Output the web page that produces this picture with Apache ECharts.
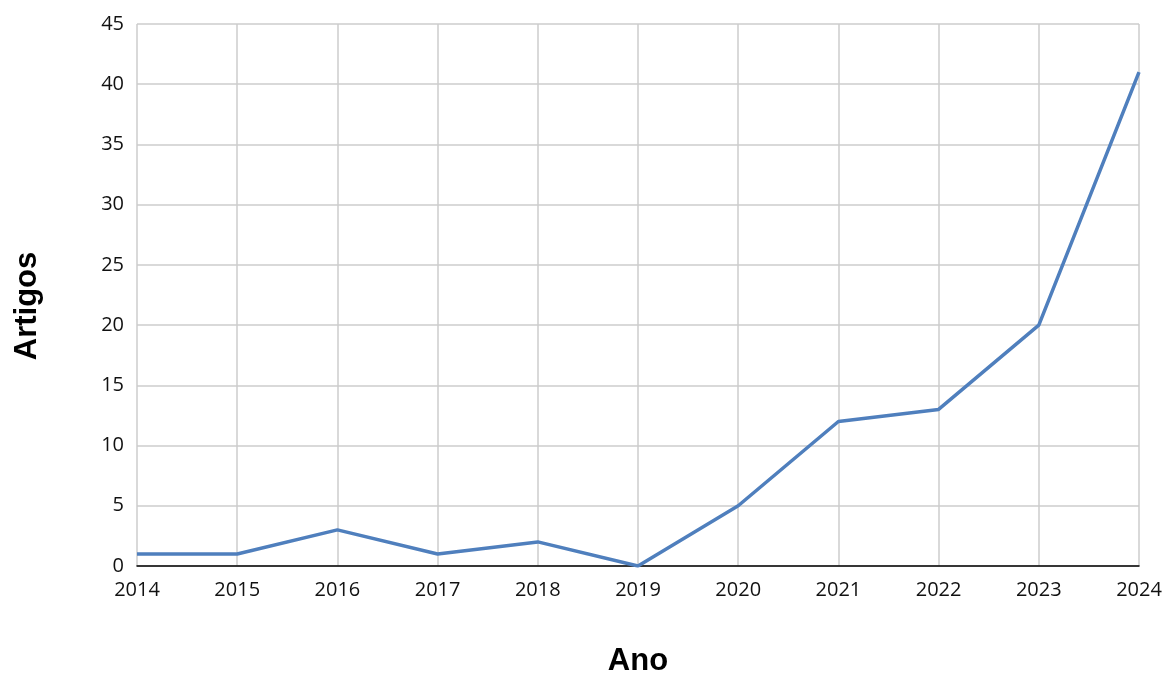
<!DOCTYPE html>
<html>
<head>
<meta charset="utf-8">
<script src="https://cdn.jsdelivr.net/npm/echarts@6/dist/echarts.min.js"></script>
<style>
  html, body { margin: 0; padding: 0; background: #fff; }
  #chart { width: 1165px; height: 677px; }
</style>
</head>
<body>
<div id="chart"></div>
<script>
const years = ['2014', '2015', '2016', '2017', '2018', '2019', '2020', '2021', '2022', '2023', '2024'];
const artigos = [1, 1, 3, 1, 2, 0, 5, 12, 13, 20, 41];

const chart = echarts.init(document.getElementById('chart'));

const option = {
  animation: false,
  grid: { left: 137, right: 26, top: 24, bottom: 111, outerBoundsMode: 'none', containLabel: false },
  xAxis: {
    type: 'category',
    data: years,
    boundaryGap: false,
    name: 'Ano',
    nameLocation: 'middle',
    nameGap: 80,
    nameTextStyle: { fontFamily: 'Liberation Sans', fontWeight: 'bold', fontSize: 31, color: '#000' },
    axisLine: { lineStyle: { color: '#000', width: 1.5 } },
    axisTick: { show: false },
    axisLabel: { fontFamily: 'Open Sans', fontSize: 20, color: '#111', margin: 14, interval: 0 },
    splitLine: { show: true, lineStyle: { color: '#cccccc', width: 1.5 } }
  },
  yAxis: {
    type: 'value',
    min: 0,
    max: 45,
    interval: 5,
    name: 'Artigos',
    nameLocation: 'middle',
    nameGap: 94,
    nameTextStyle: { fontFamily: 'Liberation Sans', fontWeight: 'bold', fontSize: 31, color: '#000', padding: [0, 22, 0, 0] },
    axisLine: { show: false },
    axisTick: { show: false },
    axisLabel: { fontFamily: 'Open Sans', fontSize: 20, color: '#111', margin: 13 },
    splitLine: { lineStyle: { color: '#cccccc', width: 1.5 } }
  },
  series: [{
    type: 'line',
    data: artigos,
    showSymbol: false,
    lineStyle: { color: '#4f7fbd', width: 3.5 },
    itemStyle: { color: '#4f7fbd' }
  }]
};

chart.setOption(option);
</script>
</body>
</html>
